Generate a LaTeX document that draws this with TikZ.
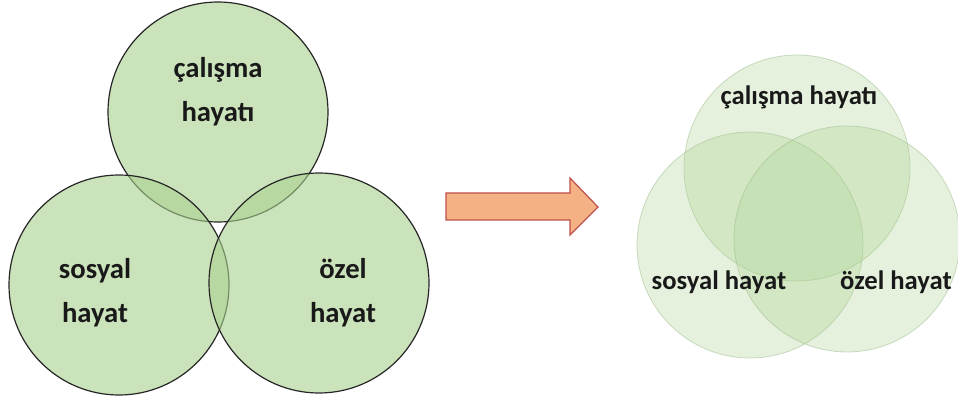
\documentclass[tikz,border=0pt]{standalone}
\usepackage{fontspec}
\setmainfont{Carlito}
\definecolor{venngreen}{RGB}{169,209,142}
\definecolor{arrowfill}{RGB}{244,177,131}
\definecolor{arrowline}{RGB}{192,80,77}
\begin{document}
\begin{tikzpicture}[x=0.75pt,y=-0.75pt,
        venn/.style={circle,minimum size=165pt,inner sep=0pt,
            draw=black!85,line width=0.9pt,fill=venngreen,fill opacity=0.6},
        softvenn/.style={circle,minimum size=169.5pt,inner sep=0pt,
            draw=venngreen!70!gray,draw opacity=0.5,line width=0.6pt,
            fill=venngreen,fill opacity=0.3},
        biglabel/.style={align=center,text=black!90,
            font=\bfseries\fontsize{21.5}{33}\selectfont},
        smalllabel/.style={text=black!90,
            font=\bfseries\fontsize{20}{24}\selectfont}]

\useasboundingbox (0,0) rectangle (958,403);

% three separate circles
\node[venn] (work) at (218,112) {};
\node[venn] (social) at (119,285) {};
\node[venn] (private) at (319,283) {};

\node[biglabel] (worktext) at (218,92) {çalışma\\hayatı};
\node[biglabel] (socialtext) at (95,293) {sosyal\\hayat};
\node[biglabel] (privatetext) at (343,293) {özel\\hayat};

% arrow
\draw[arrowline,fill=arrowfill,line width=0.9pt]
    (446,193) -- (570,193) -- (570,178) -- (598,207)
    -- (570,235) -- (570,220) -- (446,220) -- cycle;

% overlapping circles
\node[softvenn] (worktwo) at (797,168) {};
\node[softvenn] (socialtwo) at (750,245) {};
\node[softvenn] (privatetwo) at (847,239) {};

\node[smalllabel] (worktwotext) at (799,97) {çalışma hayatı};
\node[smalllabel] (socialtwotext) at (719,282) {sosyal hayat};
\node[smalllabel] (privatetwotext) at (896,282) {özel hayat};
\end{tikzpicture}
\end{document}
